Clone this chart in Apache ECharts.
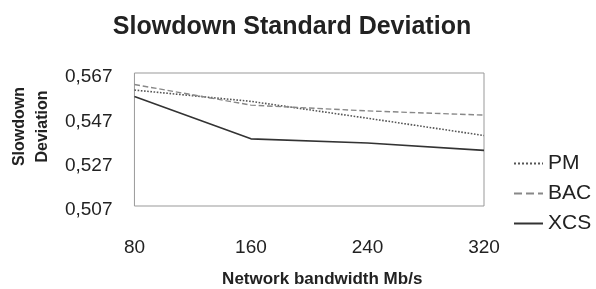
<!DOCTYPE html>
<html>
<head>
<meta charset="utf-8">
<script src="https://cdn.jsdelivr.net/npm/echarts@6/dist/echarts.min.js"></script>
<style>html,body{margin:0;padding:0;background:#fff}#c{width:596px;height:289px}</style>
</head>
<body>
<div id="c"></div>
<script>
const categories = ['80', '160', '240', '320'];
const pm  = [0.5593, 0.5542, 0.5466, 0.5388];
const bac = [0.5618, 0.5525, 0.5499, 0.5480];
const xcs = [0.5564, 0.5373, 0.5354, 0.5321];
const yTicks = [0.507, 0.527, 0.547, 0.567];

const FONT = '"Liberation Sans", Arial, Helvetica, sans-serif';
const chart = echarts.init(document.getElementById('c'));
chart.setOption({
  backgroundColor: '#fff',
  animation: false,
  textStyle: { fontFamily: FONT, color: '#222' },
  title: {
    text: 'Slowdown Standard Deviation',
    left: 287, textAlign: 'center', top: 10,
    textStyle: { fontSize: 25, fontWeight: 'bold', color: '#222', fontFamily: FONT }
  },
  grid: {
    left: 130, right: 112, top: 73, bottom: 80,
    show: true, borderColor: '#999', borderWidth: 1, backgroundColor: 'transparent'
  },
  legend: {
    orient: 'vertical', left: 508, top: 148,
    itemWidth: 29, itemHeight: 14, itemGap: 9,
    itemStyle: { opacity: 0 },
    textStyle: { fontSize: 21, color: '#222', fontFamily: FONT },
    data: ['PM', 'BAC', 'XCS']
  },
  xAxis: {
    type: 'category', data: categories, boundaryGap: false,
    axisLine: { show: false }, axisTick: { show: false }, splitLine: { show: false },
    axisLabel: { fontSize: 19, color: '#222', margin: 32, fontFamily: FONT },
    name: 'Network bandwidth Mb/s', nameLocation: 'middle', nameGap: 65,
    nameTextStyle: { fontSize: 17, fontWeight: 'bold', color: '#222', fontFamily: FONT, padding: [0, 0, 0, 26] }
  },
  yAxis: {
    type: 'value', min: 0.507, max: 0.567,
    axisLine: { show: false }, axisTick: { show: false }, splitLine: { show: false },
    axisLabel: {
      customValues: yTicks, fontSize: 19, color: '#222', margin: 22, fontFamily: FONT,
      verticalAlign: 'top', lineHeight: 8,
      formatter: v => v.toFixed(3).replace('.', ',')
    },
    name: 'Slowdown\nDeviation', nameLocation: 'middle', nameGap: 80, nameRotate: 90,
    nameTextStyle: { fontSize: 16, fontWeight: 'bold', color: '#222', fontFamily: FONT, lineHeight: 23, padding: [0, 0, 0, 26] }
  },
  series: [
    { name: 'PM', type: 'line', data: pm, symbol: 'none', color: '#555',
      lineStyle: { type: 'dotted', width: 1.6, color: '#555' } },
    { name: 'BAC', type: 'line', data: bac, symbol: 'none', color: '#888',
      lineStyle: { type: 'dashed', width: 1.4, color: '#888' } },
    { name: 'XCS', type: 'line', data: xcs, symbol: 'none', color: '#333',
      lineStyle: { type: 'solid', width: 1.6, color: '#333' } }
  ]
});
</script>
</body>
</html>
